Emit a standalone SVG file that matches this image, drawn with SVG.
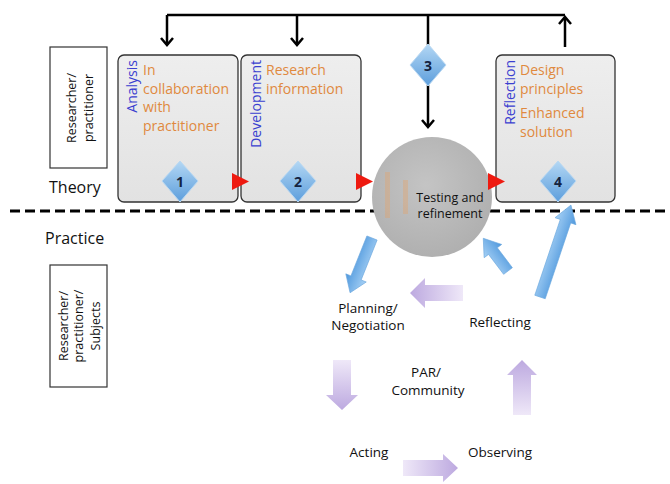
<svg xmlns="http://www.w3.org/2000/svg" width="670" height="484" viewBox="0 0 670 484">
<style>
.lbl{font-family:"Open Sans","Liberation Sans",sans-serif;fill:#111}
.side{font-size:12.5px}
.or{font-family:"Open Sans","Liberation Sans",sans-serif;font-size:14px;fill:#e0893e}
.bl{font-family:"Open Sans","Liberation Sans",sans-serif;font-size:14px;fill:#3a3fd0}
.num{font-family:"Open Sans","Liberation Sans",sans-serif;font-size:14px;font-weight:bold;fill:#14233f;text-anchor:middle}
.box{fill:url(#boxg);stroke:#333;stroke-width:1.3}
.dia{fill:url(#diag);stroke:#b9d8f2;stroke-width:1}
.tri{fill:#ee1a10}
.conn{fill:none;stroke:#000;stroke-width:2.5}
.barr{fill:url(#blueg);stroke:#6aa7de;stroke-width:0.6}
.parr{fill:url(#purg);opacity:0.85}
.cyc{font-family:"Open Sans","Liberation Sans",sans-serif;font-size:13.5px;fill:#111;text-anchor:middle}
</style>
<defs>
<linearGradient id="boxg" x1="0" y1="0" x2="0" y2="1"><stop offset="0" stop-color="#eeeeee"/><stop offset="1" stop-color="#e2e2e2"/></linearGradient>
<linearGradient id="diag" x1="0" y1="0" x2="0" y2="1"><stop offset="0" stop-color="#b3d7f4"/><stop offset="1" stop-color="#5d9edc"/></linearGradient>
<linearGradient id="blueg" x1="0" y1="0" x2="0" y2="1"><stop offset="0" stop-color="#a7d1f5"/><stop offset="1" stop-color="#4f98dd"/></linearGradient>
<linearGradient id="purg" x1="0" y1="0" x2="1" y2="0"><stop offset="0" stop-color="#ece4f7"/><stop offset="1" stop-color="#b19ada"/></linearGradient>
<radialGradient id="circg" cx="0.45" cy="0.4" r="0.6"><stop offset="0" stop-color="#c4c4c4"/><stop offset="1" stop-color="#b0b0b0"/></radialGradient>
<marker id="ah" viewBox="-9 -8 11 16" markerWidth="11" markerHeight="16" refX="0" refY="0" orient="auto" markerUnits="userSpaceOnUse">
<path d="M-7,-6 L0,0 L-7,6" fill="none" stroke="#000" stroke-width="2.5"/>
</marker>
</defs>
<rect width="670" height="484" fill="#fff"/>

<!-- dashed separator -->
<line x1="10" y1="211" x2="670" y2="211" stroke="#000" stroke-width="3" stroke-dasharray="10 5"/>

<!-- left labels -->
<g id="theory-label"><text class="lbl" x="49" y="193" font-size="16">Theory</text></g>
<g id="practice-label"><text class="lbl" x="45" y="244" font-size="16">Practice</text></g>
<g id="role-theory">
<rect x="50" y="47" width="57" height="121" fill="#fff" stroke="#333" stroke-width="1.2"/>
<g transform="translate(78,108) rotate(-90)">
<text class="lbl side" x="0" y="-2" text-anchor="middle">Researcher/</text>
<text class="lbl side" x="0" y="15" text-anchor="middle">practitioner</text>
</g>
</g>
<g id="role-practice">
<rect x="50" y="265" width="57" height="122" fill="#fff" stroke="#333" stroke-width="1.2"/>
<g transform="translate(78,326) rotate(-90)">
<text class="lbl side" x="0" y="-10" text-anchor="middle">Researcher/</text>
<text class="lbl side" x="0" y="5" text-anchor="middle">practitioner/</text>
<text class="lbl side" x="0" y="22" text-anchor="middle">Subjects</text>
</g>
</g>

<!-- connectors -->
<g id="connectors">
<path class="conn" d="M167,15 H565"/>
<path class="conn" d="M167,15 V45" marker-end="url(#ah)"/>
<path class="conn" d="M297,15 V45" marker-end="url(#ah)"/>
<path class="conn" d="M428,15 V45"/>
<path class="conn" d="M428,85 V127" marker-end="url(#ah)"/>
<path class="conn" d="M565,47 V17" marker-end="url(#ah)"/>
</g>

<!-- Box 1 Analysis -->
<g id="analysis">
<rect class="box" x="118" y="55" width="120" height="147" rx="6"/>
<text class="bl" transform="translate(137,60) rotate(-90)" text-anchor="end">Analysis</text>
<text class="or" x="143" y="75">In</text>
<text class="or" x="143" y="93.5">collaboration</text>
<text class="or" x="143" y="112">with</text>
<text class="or" x="143" y="130.5">practitioner</text>
<polygon class="dia" points="180,161 198,181 180,202 162,181"/>
<text class="num" x="180" y="186.5">1</text>
</g>

<!-- Box 2 Development -->
<g id="development">
<rect class="box" x="241" y="55" width="120" height="147" rx="6"/>
<text class="bl" transform="translate(261,60) rotate(-90)" text-anchor="end">Development</text>
<text class="or" x="266" y="75">Research</text>
<text class="or" x="266" y="93.5">information</text>
<polygon class="dia" points="298,161 316,181 298,202 280,181"/>
<text class="num" x="298" y="186.5">2</text>
</g>

<!-- Box 4 Reflection -->
<g id="reflection">
<rect class="box" x="496" y="55" width="119" height="147" rx="6"/>
<text class="bl" transform="translate(515,60) rotate(-90)" text-anchor="end">Reflection</text>
<text class="or" x="520" y="75">Design</text>
<text class="or" x="520" y="93.5">principles</text>
<text class="or" x="520" y="118">Enhanced</text>
<text class="or" x="520" y="136.5">solution</text>
<polygon class="dia" points="558,161 576,181 558,202 540,181"/>
<text class="num" x="558" y="186.5">4</text>
</g>

<!-- Diamond 3 -->
<g id="step3">
<polygon class="dia" points="428,44 446,65 428,86 410,65"/>
<text class="num" x="428" y="70.5">3</text>
</g>

<!-- Testing circle -->
<g id="testing">
<circle cx="432" cy="197" r="60" fill="url(#circg)"/>
<rect x="385" y="172" width="5" height="46" fill="#e9a062" opacity="0.35"/>
<rect x="403" y="180" width="5" height="34" fill="#e9a062" opacity="0.35"/>
<text class="lbl" x="450" y="202" font-size="12.5" text-anchor="middle">Testing and</text>
<text class="lbl" x="450" y="218" font-size="12.5" text-anchor="middle">refinement</text>
</g>

<!-- red triangles -->
<g id="markers">
<polygon class="tri" points="232,173 232,190 249,181.5"/>
<polygon class="tri" points="356,173 356,190 373,181.5"/>
<polygon class="tri" points="488,173 488,190 505,181.5"/>
</g>

<!-- blue arrows -->
<g id="blue-arrows">
<polygon class="barr" transform="translate(372,238) rotate(111.8)" points="0,-5.5 43,-5.5 43,-11 59,0 43,11 43,5.5 0,5.5"/>
<polygon class="barr" transform="translate(508,271) rotate(-127.1)" points="0,-5.5 25,-5.5 25,-11 41,0 25,11 25,5.5 0,5.5"/>
<polygon class="barr" transform="translate(540,297) rotate(-71.4)" points="0,-5.5 80,-5.5 80,-11 97,0 80,11 80,5.5 0,5.5"/>
</g>

<!-- purple cycle arrows -->
<g id="cycle-arrows">
<polygon class="parr" transform="translate(463,293) rotate(180)" points="0,-8 38,-8 38,-15 53,0 38,15 38,8 0,8"/>
<polygon class="parr" transform="translate(342,360) rotate(90)" points="0,-9 35,-9 35,-16 50,0 35,16 35,9 0,9"/>
<polygon class="parr" transform="translate(403,468) rotate(0)" points="0,-8 40,-8 40,-14 55,0 40,14 40,8 0,8"/>
<polygon class="parr" transform="translate(522,415) rotate(-90)" points="0,-9 40,-9 40,-15 55,0 40,15 40,9 0,9"/>
</g>

<!-- cycle labels -->
<g id="planning"><text class="cyc" x="368" y="313">Planning/</text><text class="cyc" x="368" y="330">Negotiation</text></g>
<g id="reflecting"><text class="cyc" x="500" y="327">Reflecting</text></g>
<g id="par"><text class="cyc" x="426" y="377">PAR/</text><text class="cyc" x="428" y="395">Community</text></g>
<g id="acting"><text class="cyc" x="369" y="457">Acting</text></g>
<g id="observing"><text class="cyc" x="500" y="457">Observing</text></g>
</svg>
